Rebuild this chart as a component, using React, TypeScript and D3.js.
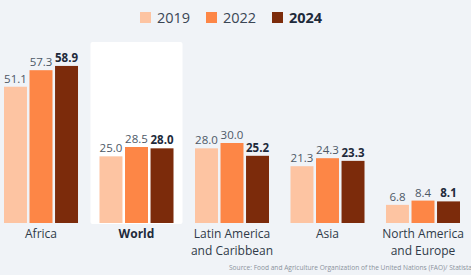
import * as d3 from 'd3';
import React from 'react';

const regions = ['Africa', 'World', 'Latin America\nand Caribbean', 'Asia', 'North America\nand Europe'];
const years = ['2019', '2022', '2024'];
const v2019 = [51.1, 25.0, 28.0, 21.3, 6.8];
const v2022 = [57.3, 28.5, 30.0, 24.3, 8.4];
const v2024 = [58.9, 28.0, 25.2, 23.3, 8.1];
const colors = ['#fdc4a2', '#fd8646', '#7c2b0b'];
const source = 'Source: Food and Agriculture Organization of the United Nations (FAO)/ Statista';

const W = 471;
const H = 275;
const base = 223;

export default function App() {
  const series = [v2019, v2022, v2024];
  const x = d3.scaleBand().domain(regions).range([4, 460]).paddingInner(0.225).paddingOuter(0);
  const xi = d3.scaleBand().domain(years).range([0, x.bandwidth()]).padding(0.1).paddingOuter(0);
  const y = d3.scaleLinear().domain([0, 60]).range([base, 63]);
  const font = "'Open Sans', sans-serif";

  const legendX = [140, 206, 272];

  const worldX = x('World')!;

  return (
    <svg width={W} height={H} style={{ position: 'absolute', left: 0, top: 0, fontFamily: font }}>
      <rect width={W} height={H} fill="#f0f3f7" />
      <rect x={worldX - 9} y={42} width={x.bandwidth() + 18} height={base + 1 - 42} fill="#ffffff" rx={2} />
      {years.map((yr, i) => (
        <g key={yr}>
          <rect x={legendX[i]} y={12} width={11} height={11} fill={colors[i]} />
          <text
            x={legendX[i] + 17}
            y={23}
            fontSize={14.5}
            fill={i === 2 ? '#1e2a3b' : '#3a4654'}
            fontWeight={i === 2 ? 700 : 400}
          >
            {yr}
          </text>
        </g>
      ))}
      {regions.map((r, gi) => (
        <g key={r} transform={`translate(${x(r)},0)`}>
          {years.map((yr, si) => {
            const v = series[si][gi];
            const bx = xi(yr)!;
            return (
              <g key={yr}>
                <rect x={bx} y={y(v)} width={xi.bandwidth()} height={base - y(v)} fill={colors[si]} />
                <text
                  x={bx + xi.bandwidth() / 2}
                  y={y(v) - 4}
                  textAnchor="middle"
                  fontSize={11.5}
                  fontWeight={si === 2 ? 700 : 400}
                  fill={si === 2 ? '#1e2a3b' : '#4d5866'}
                >
                  {v.toFixed(1)}
                </text>
              </g>
            );
          })}
          {r.split('\n').map((line, li) => (
            <text
              key={li}
              x={x.bandwidth() / 2}
              y={238 + li * 16.6}
              textAnchor="middle"
              fontSize={12}
              fontWeight={r === 'World' ? 700 : 400}
              fill={r === 'World' ? '#1e2a3b' : '#2f3a48'}
            >
              {line}
            </text>
          ))}
        </g>
      ))}
      <text x={229} y={269.5} fontSize={6.6} fill="#8a929c">
        {source}
      </text>
    </svg>
  );
}
